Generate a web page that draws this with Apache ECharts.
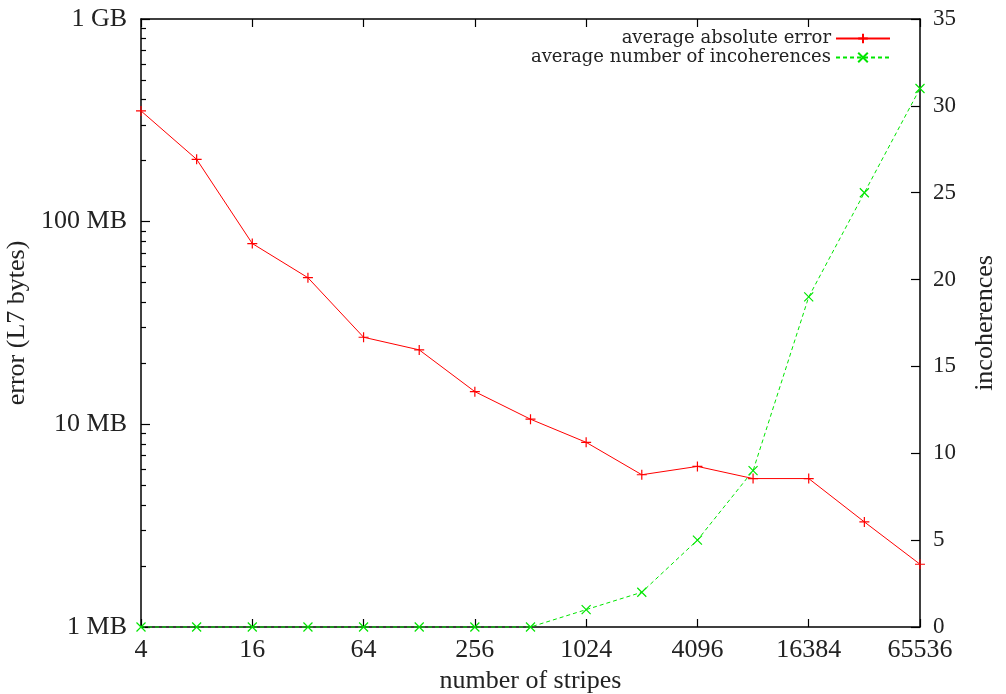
<!DOCTYPE html>
<html>
<head>
<meta charset="utf-8">
<script src="https://cdn.jsdelivr.net/npm/echarts@6/dist/echarts.min.js"></script>
<style>
html,body{margin:0;padding:0;background:#fff;}
#chart{width:1006px;height:694px;}
</style>
</head>
<body>
<div id="chart"></div>
<script>
// ---- data ----
const stripes = [4, 8, 16, 32, 64, 128, 256, 512, 1024, 2048, 4096, 8192, 16384, 32768, 65536];
const errorMB = [352, 203, 78, 52.9, 26.9, 23.3, 14.5, 10.6, 8.15, 5.64, 6.2, 5.4, 5.4, 3.3, 2.04];
const incoherences = [0, 0, 0, 0, 0, 0, 0, 0, 1, 2, 5, 9, 19, 25, 31];
const xTickValues = [4, 16, 64, 256, 1024, 4096, 16384, 65536];
const yTickValues = [1, 10, 100, 1000];
const yTickLabels = ['1 MB', '10 MB', '100 MB', '1 GB'];
const seriesNames = ['average absolute error', 'average number of incoherences'];

const FONT = 'Liberation Serif';
const minorY = [];
for (let d = 1; d < 1000; d *= 10) for (let k = 2; k <= 9; k++) minorY.push(k * d);

const chart = echarts.init(document.getElementById('chart'), null, {renderer: 'canvas'});
const axisLineStyle = {color: '#000', width: 1.5};
const option = {
  backgroundColor: '#fff',
  animation: false,
  grid: {left: 141, right: 86, top: 19, bottom: 67, containLabel: false, outerBoundsMode: 'none'},
  legend: {
    orient: 'vertical', right: 110, top: 24, align: 'right',
    itemWidth: 54, itemHeight: 12, itemGap: 0,
    textStyle: {fontFamily: 'DejaVu Serif', fontSize: 18, color: '#222', lineHeight: 19},
    data: seriesNames
  },
  xAxis: [
    {
      type: 'log', logBase: 2, min: 4, max: 65536,
      name: 'number of stripes', nameLocation: 'middle', nameGap: 40,
      nameTextStyle: {fontFamily: FONT, fontSize: 26, color: '#222', verticalAlign: 'top'},
      axisLine: {show: true, lineStyle: axisLineStyle},
      axisTick: {show: true, inside: true, length: 8, customValues: xTickValues,
        lineStyle: {color: '#000', width: 1.2}},
      axisLabel: {fontFamily: FONT, fontSize: 26, color: '#222', margin: 10,
        customValues: xTickValues,
        formatter: v => String(Math.round(v))},
      splitLine: {show: false}, minorTick: {show: false}
    },
    {
      type: 'log', logBase: 2, min: 4, max: 65536, position: 'top',
      axisLine: {show: true, lineStyle: axisLineStyle},
      axisTick: {show: true, inside: true, length: 8, customValues: xTickValues,
        lineStyle: {color: '#000', width: 1.2}},
      axisLabel: {show: false}, splitLine: {show: false}
    }
  ],
  yAxis: [
    {
      type: 'log', logBase: 10, min: 1, max: 1000, position: 'left',
      name: 'error (L7 bytes)', nameLocation: 'middle', nameGap: 103, nameRotate: 90,
      nameTextStyle: {fontFamily: FONT, fontSize: 26, color: '#222'},
      axisLine: {show: true, lineStyle: axisLineStyle},
      axisTick: {show: true, inside: true, length: 9, customValues: yTickValues,
        lineStyle: {color: '#000', width: 1.2}},
      axisLabel: {fontFamily: FONT, fontSize: 26, color: '#222', margin: 14,
        customValues: yTickValues,
        formatter: v => {
          const i = yTickValues.findIndex(t => Math.abs(t - v) < 1e-6 * t);
          return i >= 0 ? yTickLabels[i] : '';
        }},
      splitLine: {show: false}, minorTick: {show: false}
    },
    {
      type: 'value', min: 0, max: 35, interval: 5, position: 'right',
      name: 'incoherences', nameLocation: 'middle', nameGap: 52, nameRotate: 90,
      nameTextStyle: {fontFamily: FONT, fontSize: 26, color: '#222'},
      axisLine: {show: true, lineStyle: axisLineStyle},
      axisTick: {show: true, inside: true, length: 9, lineStyle: {color: '#000', width: 1.2}},
      axisLabel: {fontFamily: FONT, fontSize: 23, color: '#222', margin: 13},
      splitLine: {show: false}
    },
    {
      type: 'log', logBase: 10, min: 1, max: 1000, position: 'left',
      axisLine: {show: false},
      axisTick: {show: true, inside: true, length: 5, customValues: minorY,
        lineStyle: {color: '#000', width: 1.2}},
      axisLabel: {show: false}, splitLine: {show: false}
    }
  ],
  series: [
    {
      name: seriesNames[0], type: 'line', xAxisIndex: 0, yAxisIndex: 0,
      data: stripes.map((s, i) => [s, errorMB[i]]),
      symbol: 'path://M0,5L10,5M5,0L5,10', symbolSize: 10, clip: false,
      lineStyle: {color: '#ff0000', width: 1},
      itemStyle: {color: '#ff0000', borderColor: '#ff0000', borderWidth: 1.2},
      z: 3
    },
    {
      name: seriesNames[1], type: 'line', xAxisIndex: 0, yAxisIndex: 1,
      data: stripes.map((s, i) => [s, incoherences[i]]),
      symbol: 'path://M0,0L10,10M0,10L10,0', symbolSize: 9, clip: false,
      lineStyle: {color: '#00e600', width: 1, type: [4, 3]},
      itemStyle: {color: '#00e600', borderColor: '#00e600', borderWidth: 1.2},
      z: 4
    }
  ]
};
chart.setOption(option);
</script>
</body>
</html>
